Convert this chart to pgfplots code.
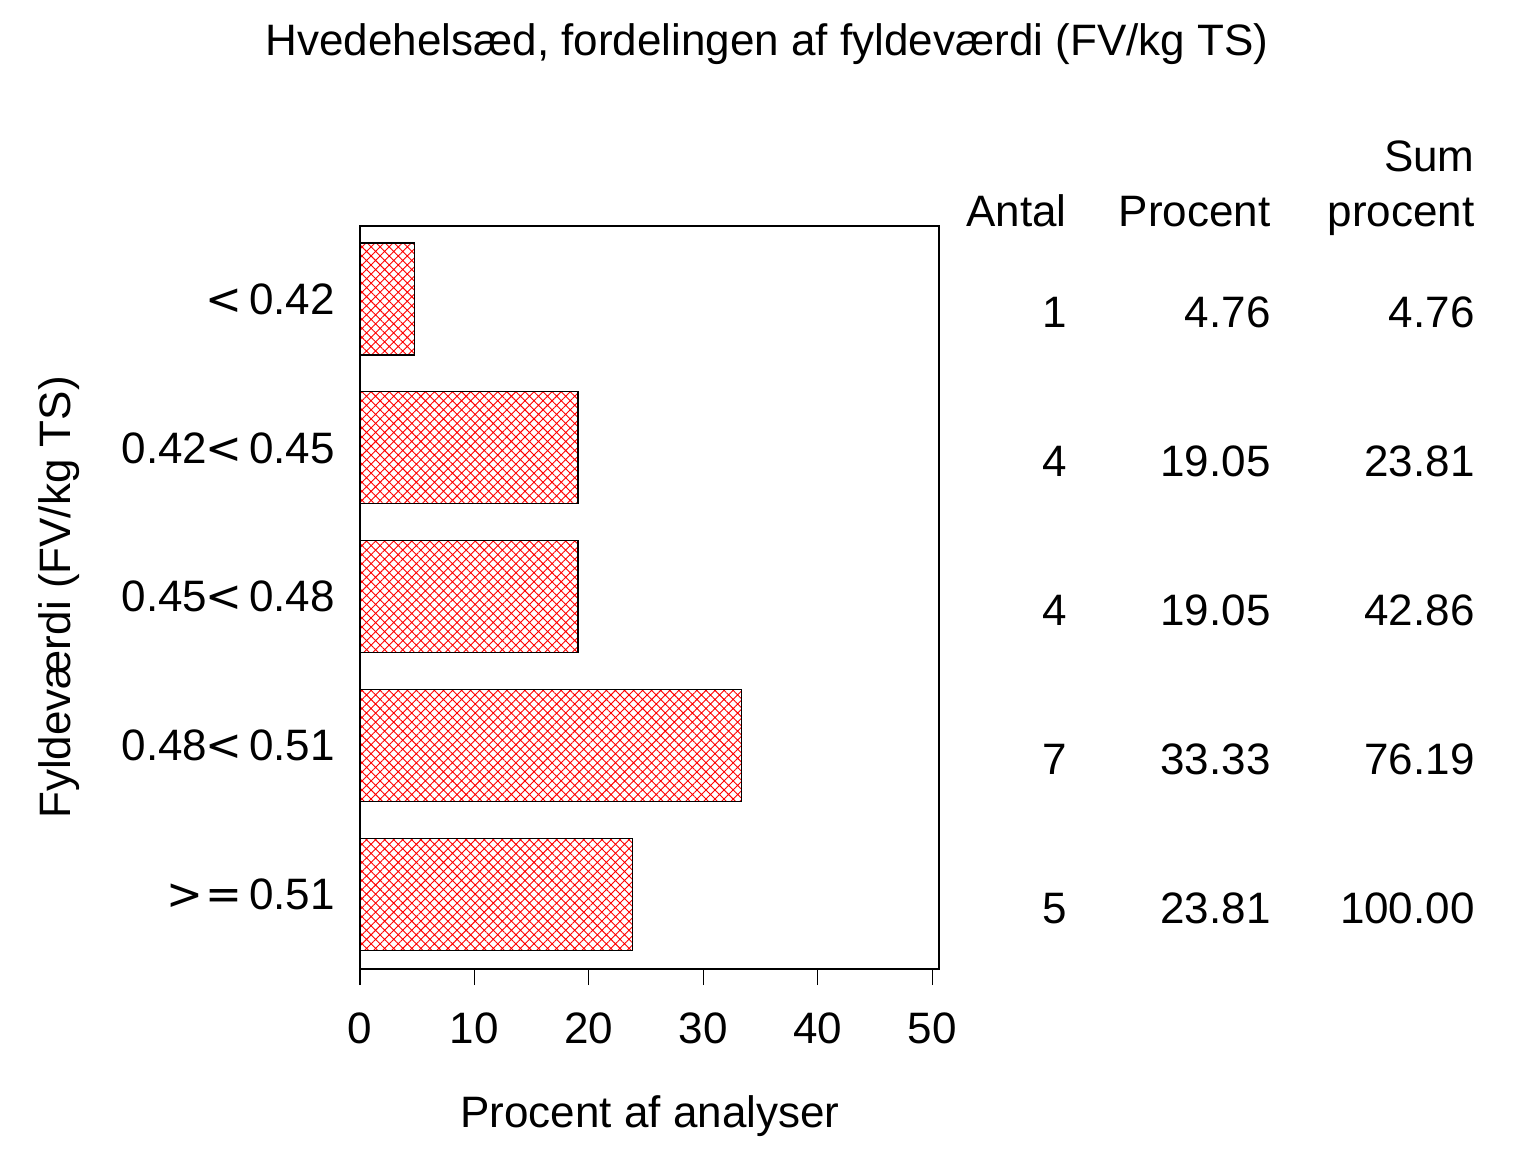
\documentclass[border=0pt]{standalone}
\usepackage{fontspec}
\setmainfont{Liberation Sans}
\newfontfamily\dv{DejaVu Sans}
\usepackage{pgfplots}
\pgfplotsset{compat=1.18}
\usetikzlibrary{patterns.meta}
\newcommand{\lt}{{\dv<}\kern3.5pt}
\begin{document}
\begin{tikzpicture}[font=\fontsize{22}{26}\selectfont]
\useasboundingbox (0,0) rectangle (768pt,576pt);
\begin{axis}[
  at={(180pt,91.5pt)}, anchor=south west,
  scale only axis, width=289.5pt, height=371.5pt,
  xbar, bar width=56pt,
  xmin=0, xmax=50.6,
  ymin=-0.49, ymax=4.5, y dir=reverse,
  xtick={0,10,20,30,40,50},
  ytick={0,1,2,3,4},
  yticklabels={{\lt 0.42},{0.42\kern-1pt\lt 0.45},{0.45\kern-1pt\lt 0.48},{0.48\kern-1pt\lt 0.51},{{\dv >}\kern1pt{\dv =}\kern3.5pt0.51}},
  ytick style={draw=none},
  xtick pos=lower, xtick align=outside,
  major tick length=8pt,
  xtick style={line width=0.6pt, black},
  axis line style={line width=0.6pt},
  /pgf/number format/assume math mode=true,
  xticklabel style={anchor=base, yshift=-29pt},
  yticklabel style={anchor=east, xshift=-1pt},
  clip=false,
]
\addplot[draw=black, line width=0.6pt, pattern={Hatch[angle=45,distance=3.2pt,line width=0.45pt]}, pattern color=red]
  coordinates {(4.76,0) (19.05,1) (19.05,2) (33.33,3) (23.81,4)};
\end{axis}
% title
\node[anchor=base] at (383.5pt,548pt) {Hvedehelsæd, fordelingen af fyldeværdi (FV/kg TS)};
% axis labels
\node[anchor=base] at (325pt,12.5pt) {Procent af analyser};
\node[anchor=base, rotate=90] at (35pt,277.25pt) {Fyldeværdi (FV/kg TS)};
% table header
\node[anchor=base east, inner sep=0pt] at (737.5pt,490pt) {Sum};
\node[anchor=base east, inner sep=0pt] at (533.5pt,462.5pt) {Antal};
\node[anchor=base east, inner sep=0pt] at (635.5pt,462.5pt) {Procent};
\node[anchor=base east, inner sep=0pt] at (737.5pt,462.5pt) {procent};
% table rows
\foreach \y/\a/\p/\s in {412/1/4.76/4.76, 337.5/4/19.05/23.81, 263/4/19.05/42.86, 189/7/33.33/76.19, 114.5/5/23.81/100.00}{
  \node[anchor=base east, inner sep=0pt] at (533.5pt,\y pt) {\a};
  \node[anchor=base east, inner sep=0pt] at (635.5pt,\y pt) {\p};
  \node[anchor=base east, inner sep=0pt] at (737.5pt,\y pt) {\s};
}
\end{tikzpicture}
\end{document}
